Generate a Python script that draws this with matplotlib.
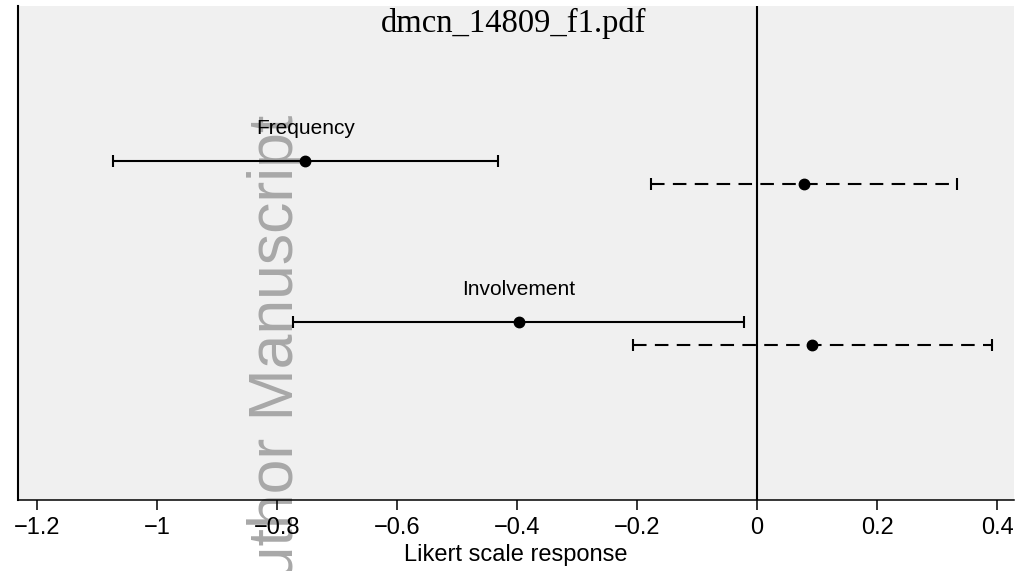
import matplotlib
matplotlib.use("Agg")
import matplotlib.pyplot as plt
from matplotlib.ticker import FuncFormatter

# ---------------------------------------------------------
# Data
# ---------------------------------------------------------
categories = ["Frequency", "Involvement"]
group_pos = [2.0, 1.0]

solid_est = [-0.753, -0.397]
solid_lo = [-1.073, -0.774]
solid_hi = [-0.432, -0.022]

dashed_est = [0.078, 0.092]
dashed_lo = [-0.177, -0.206]
dashed_hi = [0.333, 0.391]

xticks = [-1.2, -1.0, -0.8, -0.6, -0.4, -0.2, 0.0, 0.2, 0.4]

# ---------------------------------------------------------
# Style
# ---------------------------------------------------------
plt.rcParams["font.family"] = ["Liberation Sans", "DejaVu Sans"]
BG = "#f0f0f0"
OFFSET = 0.0714
LW = 1.5

fig = plt.figure(figsize=(10.17, 5.71), dpi=100)
ax = fig.add_axes([18 / 1017, 1 - 500 / 571, (1014 - 18) / 1017, 494 / 571])
ax.set_facecolor(BG)


def draw_ci(ax, y, est, lo, hi, ls):
    ax.plot([lo, hi], [y, y], color="black", lw=LW, ls=ls, zorder=3,
            solid_capstyle="butt", dash_capstyle="butt")
    ax.plot([lo, hi], [y, y], ls="none", marker="|", ms=8, mew=LW,
            color="black", zorder=3)
    ax.plot([est], [y], ls="none", marker="o", ms=7.5, color="black", zorder=4)


ax.axvline(0, color="black", lw=LW, zorder=2)

for i, name in enumerate(categories):
    y = group_pos[i]
    draw_ci(ax, y + OFFSET, solid_est[i], solid_lo[i], solid_hi[i], "-")
    draw_ci(ax, y - OFFSET, dashed_est[i], dashed_lo[i], dashed_hi[i], (0, (6.5, 4)))
    ax.text(solid_est[i], y + 0.276, name, ha="center", va="center",
            fontsize=15, zorder=5)

ax.set_xlim(-1.2317, 0.4283)
ax.set_ylim(-0.034, 3.034)

ax.set_xticks(xticks)
ax.xaxis.set_major_formatter(FuncFormatter(lambda v, p: ("%g" % round(v, 2)).replace("-", "\u2212")))
ax.tick_params(axis="x", direction="out", length=7.5, width=1.1, labelsize=17, pad=5)
ax.set_yticks([])
ax.set_xlabel("Likert scale response", fontsize=17, labelpad=3)

ax.spines["top"].set_visible(False)
ax.spines["right"].set_visible(False)
ax.spines["left"].set_linewidth(1.5)
ax.spines["bottom"].set_linewidth(1.1)

# pdf stamp at the top
fig.text(514 / 1017, 1 - 23 / 571, "dmcn_14809_f1.pdf", ha="center", va="center",
         fontsize=23.5, family=["Liberation Serif", "DejaVu Serif"])

# watermark, under the marks but over the panel
ax.text(276 / 1017, 1 - 115 / 571, "Author Manuscript", transform=fig.transFigure,
        rotation=90, ha="center", va="top", fontsize=45, color="#a8a8a8",
        clip_on=False, zorder=1)

fig.savefig("out.png", dpi=100)
